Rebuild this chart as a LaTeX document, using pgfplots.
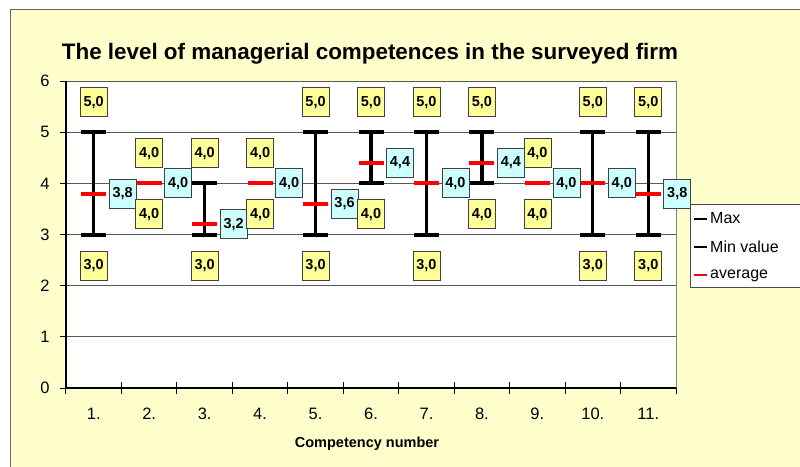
\documentclass[border=0pt]{standalone}
\usepackage{pgfplots}
\pgfplotsset{compat=1.18}
\usepackage{pgfplotstable}
\usepackage{fontspec}
\setmainfont{Liberation Sans}
\definecolor{bgyel}{HTML}{FFFFCC}
\definecolor{labyel}{HTML}{FFFF99}
\definecolor{labcyan}{HTML}{CCFFFF}

\pgfplotstableread{
x max min avg
1 5 3 3.8
2 4 4 4.0
3 4 3 3.2
4 4 4 4.0
5 5 3 3.6
6 5 4 4.4
7 5 3 4.0
8 5 4 4.4
9 4 4 4.0
10 5 3 4.0
11 5 3 3.8
}\data

\tikzset{
  labbox/.style={draw=black!75, line width=0.7pt, font=\bfseries\fontsize{14.5}{16}\selectfont,
    inner sep=0pt, minimum width=27pt, minimum height=29pt, anchor=center},
  maxlab/.style={labbox, fill=labyel, xshift=0pt, yshift=30pt},
  minlab/.style={labbox, fill=labyel, xshift=0pt, yshift=-31pt},
  avglab/.style={labbox, fill=labcyan, xshift=29pt, yshift=0pt},
}
\newcommand{\lab}{\pgfmathprintnumber[fixed,fixed zerofill,precision=1,use comma]{\pgfplotspointmeta}}

\begin{document}
\begin{tikzpicture}[x=1pt,y=1pt]
\useasboundingbox (0,0) rectangle (800,466);
\fill[white] (0,0) rectangle (800,466);
\draw[black!60, line width=1pt, fill=bgyel] (10,456) rectangle (830,-20);
\draw[black!70, line width=0.8pt, fill=white] (690,262) rectangle (830,179);
\node[anchor=base, font=\bfseries\fontsize{22.4}{26}\selectfont] at (370,406) {The level of managerial competences in the surveyed firm};
\node[anchor=base, font=\bfseries\fontsize{14.5}{17}\selectfont] at (367,19) {Competency number};
\begin{axis}[
  at={(66pt,78pt)}, anchor=south west, scale only axis,
  width=610pt, height=307pt,
  xmin=0.5, xmax=11.5, ymin=0, ymax=6,
  clip=false,
  axis background/.style={fill=white},
  axis lines*=left,
  axis line style={black, line width=1.2pt},
  xtick={1,...,11},
  xticklabels={1.,2.,3.,4.,5.,6.,7.,8.,9.,10.,11.},
  minor xtick={0.5,1.5,...,11.5},
  major x tick style={draw=none},
  minor x tick style={black, line width=1pt},
  minor tick length=12pt,
  xtick align=center,
  ytick={0,...,6},
  ytick align=outside,
  major tick length=6pt,
  ytick style={black, line width=1pt},
  ymajorgrids,
  grid style={black!65, line width=0.9pt},
  tick label style={font=\fontsize{16.5}{19}\selectfont},
  typeset ticklabels with strut,
  xticklabel style={yshift=-12pt},
  yticklabel style={xshift=-7pt, yshift=-2pt},
  /pgf/number format/assume math mode=true,
  legend style={at={(1.023,0.586)}, anchor=north west, draw=none, fill=none,
    font=\fontsize{16}{19}\selectfont, row sep=12pt},
  legend cell align=left,
]
\addplot[forget plot, draw=none, mark=none,
  error bars/.cd, y dir=minus, y explicit, error mark=none,
  error bar style={draw=black, line width=3.3pt}]
  table[x=x, y=max, y error minus expr=\thisrow{max}-\thisrow{min}] {\data};
\addplot[black, only marks, mark=-, mark size=12.5pt, mark options={line width=4pt},
  legend image code/.code={\draw[black, line width=2pt] (0pt,0pt) -- (13pt,0pt);}]
  table[x=x, y=max] {\data};
\addlegendentry{Max}
\addplot[black, only marks, mark=-, mark size=12.5pt, mark options={line width=4pt},
  legend image code/.code={\draw[black, line width=2pt] (0pt,0pt) -- (13pt,0pt);}]
  table[x=x, y=min] {\data};
\addlegendentry{Min value}
\addplot[red, only marks, mark=-, mark size=12.5pt, mark options={line width=4pt},
  legend image code/.code={\draw[red, line width=2pt] (0pt,0pt) -- (13pt,0pt);}]
  table[x=x, y=avg] {\data};
\addlegendentry{average}
\addplot[forget plot, only marks, mark=none, point meta=y, nodes near coords={\lab},
  every node near coord/.append style={avglab}] table[x=x, y=avg] {\data};
\addplot[forget plot, only marks, mark=none, point meta=y, nodes near coords={\lab},
  every node near coord/.append style={maxlab}] table[x=x, y=max] {\data};
\addplot[forget plot, only marks, mark=none, point meta=y, nodes near coords={\lab},
  every node near coord/.append style={minlab}] table[x=x, y=min] {\data};
\draw[black!50, line width=0.8pt] (rel axis cs:1,0) -- (rel axis cs:1,1);
\end{axis}
\end{tikzpicture}
\end{document}
